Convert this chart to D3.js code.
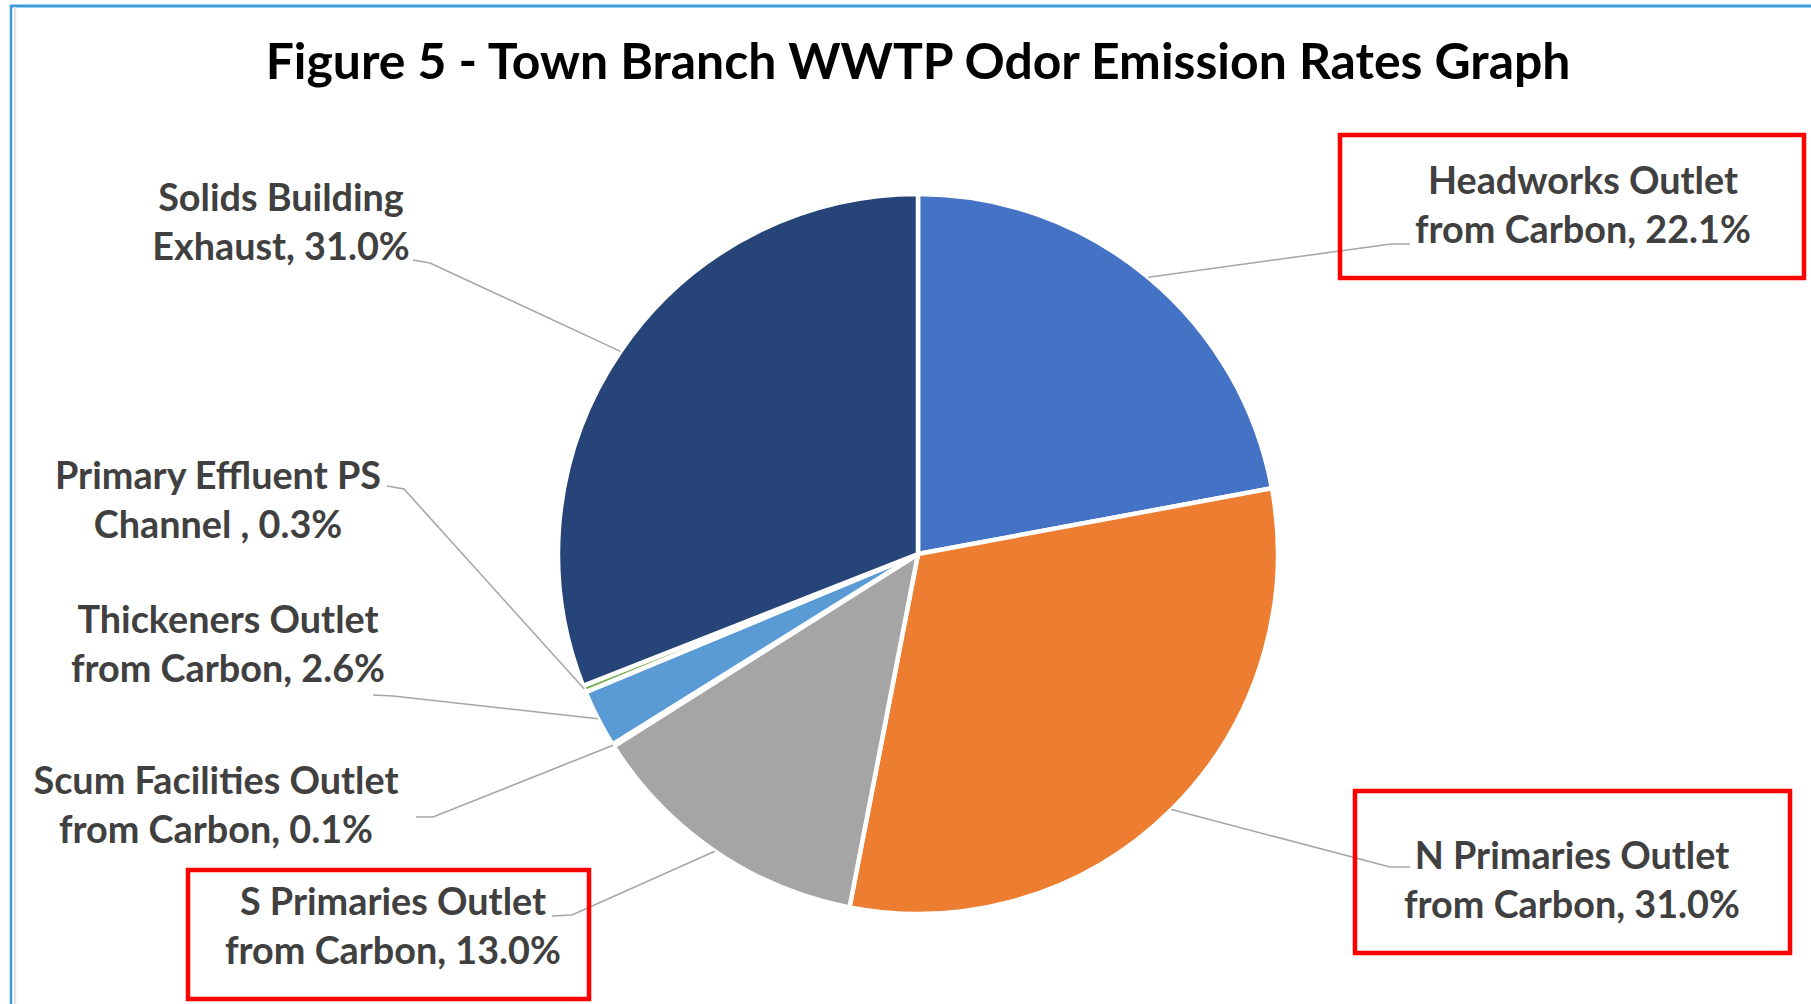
<!DOCTYPE html>
<html>
<head>
<meta charset="utf-8">
<script src="https://cdn.jsdelivr.net/npm/d3@7"></script>
<style>
  body { margin: 0; background: #fff; }
  text { font-family: Lato, "Open Sans", sans-serif; font-weight: 700; }
</style>
</head>
<body>
<div id="viz"></div>
<script>
// data - slices clockwise from 12 o'clock
const names = [
  'Headworks Outlet from Carbon',
  'N Primaries Outlet from Carbon',
  'S Primaries Outlet from Carbon',
  'Scum Facilities Outlet from Carbon',
  'Thickeners Outlet from Carbon',
  'Primary Effluent PS Channel',
  'Solids Building Exhaust'
];
const values = [22.1, 31.0, 13.0, 0.1, 2.6, 0.3, 31.0];
const labelLines = [
  ['Headworks Outlet', 'from Carbon, 22.1%'],
  ['N Primaries Outlet', 'from Carbon, 31.0%'],
  ['S Primaries Outlet', 'from Carbon, 13.0%'],
  ['Scum Facilities Outlet', 'from Carbon, 0.1%'],
  ['Thickeners Outlet', 'from Carbon, 2.6%'],
  ['Primary Effluent PS', 'Channel , 0.3%'],
  ['Solids Building', 'Exhaust, 31.0%']
];
const colors = ['#4472C4', '#ED7D31', '#A5A5A5', '#FFC000', '#5B9BD5', '#70AD47', '#264478'];
const highlighted = [0, 1, 2]; // red boxes
const title = 'Figure 5 - Town Branch WWTP Odor Emission Rates Graph';

// layout (label placement, leader ends)
const labelPos = [
  { cx: 1583, y: 194, elbow: [1391, 244], end: [1410, 244] },
  { cx: 1572, y: 869, elbow: [1390, 867], end: [1410, 867] },
  { cx: 393, y: 915, elbow: [572, 915], end: [552, 916] },
  { cx: 216, y: 794, elbow: [433, 817], end: [416, 817] },
  { cx: 228, y: 633, elbow: [393, 696], end: [373, 695] },
  { cx: 218, y: 489, elbow: [404, 489], end: [387, 486] },
  { cx: 281, y: 211, elbow: [430, 263], end: [413, 260] }
];
const boxes = [
  [1340, 135, 1804, 278],
  [1355, 791, 1790, 953],
  [188, 870, 589, 999]
];

const W = 1811, H = 1004;
const cx = 918, cy = 554, r = 360;
const lineGap = 49;

const svg = d3.select('#viz').append('svg')
  .attr('width', W)
  .attr('height', H);

// frame
svg.append('line').attr('x1', 10).attr('x2', W).attr('y1', 6).attr('y2', 6)
  .attr('stroke', '#3C9BE0').attr('stroke-width', 3);
svg.append('line').attr('x1', 11).attr('x2', 11).attr('y1', 5).attr('y2', H)
  .attr('stroke', '#3C9BE0').attr('stroke-width', 2.5);
svg.append('line').attr('x1', 15).attr('x2', 15).attr('y1', 7).attr('y2', H)
  .attr('stroke', '#E3E3E3').attr('stroke-width', 2.5);

// title, sized to its width in the picture
const titleText = svg.append('text')
  .attr('x', cx)
  .attr('y', 79)
  .attr('text-anchor', 'middle')
  .attr('fill', '#000')
  .style('font-size', '100px')
  .text(title);
let tw = titleText.node().getComputedTextLength();
titleText.style('font-size', (100 * 1305 / tw) + 'px');

// pie
const pie = d3.pie().sort(null).value(d => d);
const arcs = pie(values);
const arc = d3.arc().innerRadius(0).outerRadius(r);
const edge = d3.arc().innerRadius(r).outerRadius(r);

const g = svg.append('g').attr('transform', `translate(${cx},${cy})`);
g.selectAll('path')
  .data(arcs)
  .enter()
  .append('path')
  .attr('d', arc)
  .attr('fill', (d, i) => colors[i])
  .attr('stroke', '#fff')
  .attr('stroke-width', 4.5)
  .attr('stroke-linejoin', 'round');

// leader lines
svg.append('g').selectAll('polyline')
  .data(arcs)
  .enter()
  .append('polyline')
  .attr('points', function (d, i) {
    const p = edge.centroid(d);
    const lp = labelPos[i];
    return [[cx + p[0], cy + p[1]], lp.elbow, lp.end].map(q => q.join(',')).join(' ');
  })
  .attr('fill', 'none')
  .attr('stroke', '#A6A6A6')
  .attr('stroke-width', 1.6);

// labels
const probe = svg.append('text').style('font-size', '100px').text('from Carbon, 22.1%');
const fs = 100 * 336 / probe.node().getComputedTextLength();
probe.remove();

const labels = svg.append('g').selectAll('text')
  .data(labelLines)
  .enter()
  .append('text')
  .attr('text-anchor', 'middle')
  .attr('fill', '#404040')
  .style('font-size', fs + 'px');

labels.each(function (lines, i) {
  d3.select(this).selectAll('tspan')
    .data(lines)
    .enter()
    .append('tspan')
    .attr('x', labelPos[i].cx)
    .attr('y', (d, j) => labelPos[i].y + j * lineGap)
    .text(d => d);
});

// red highlight boxes
svg.append('g').selectAll('rect')
  .data(highlighted)
  .enter()
  .append('rect')
  .attr('x', (d, i) => boxes[i][0])
  .attr('y', (d, i) => boxes[i][1])
  .attr('width', (d, i) => boxes[i][2] - boxes[i][0])
  .attr('height', (d, i) => boxes[i][3] - boxes[i][1])
  .attr('fill', 'none')
  .attr('stroke', '#FF0000')
  .attr('stroke-width', 4.5);
</script>
</body>
</html>
